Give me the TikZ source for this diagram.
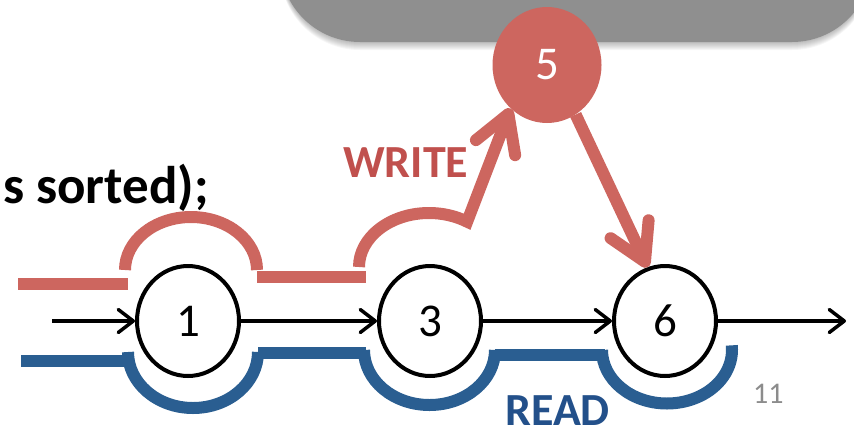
\documentclass[tikz,border=0pt]{standalone}
\usepackage{fontspec}
\setmainfont{Carlito}
\usetikzlibrary{shapes.geometric,arrows.meta}
\definecolor{boxgray}{HTML}{8F8F8F}
\definecolor{wred}{HTML}{CD665F}
\definecolor{wredtext}{HTML}{C0504D}
\definecolor{rblue}{HTML}{2A5E91}
\definecolor{rbluetext}{HTML}{23508A}
\definecolor{pagegray}{HTML}{8C8C8C}
\begin{document}
\begin{tikzpicture}[x=1pt,y=-1pt,
  listnode/.style={ellipse, draw=black, fill=white, line width=4pt,
    minimum width=102pt, minimum height=110pt, inner sep=0pt,
    font=\fontsize{47}{50}\selectfont},
  newnode/.style={ellipse, fill=wred, minimum width=109pt,
    minimum height=116pt, inner sep=0pt, text=white,
    font=\fontsize{47}{50}\selectfont},
  link/.style={line width=3.5pt,
    -{Straight Barb[length=15pt,width=23pt,round]}},
  writepath/.style={draw=wred, line width=12pt},
  readpath/.style={draw=rblue, line width=12pt},
  bigbarb/.style={-{Straight Barb[length=36pt,width=42pt,round]}},
  label/.style={inner sep=0pt, anchor=base west}]
\useasboundingbox (0,0) rectangle (854,437);

% grey panel with a soft shadow underneath
\foreach \k in {1,...,8}
  \fill[black, opacity=0.035, rounded corners=80pt] (280,-200) rectangle (872,42+\k);
\fill[boxgray, rounded corners=80pt] (280,-200) rectangle (872,42);

% list nodes
\node[listnode] (n1) at (188,321) {1};
\node[listnode] (n3) at (430,321) {3};
\node[listnode] (n6) at (665,321) {6};
\node[newnode]  (n5) at (547,65) {5};

% links of the list
\coordinate (head) at (52,321);
\coordinate (tail) at (846,321);
\draw[link] (head) -- (n1);
\draw[link] (n1) -- (n3);
\draw[link] (n3) -- (n6);
\draw[link] (n6) -- (tail);

% write traversal
\draw[writepath] (18,284) -- (128,284);
\draw[writepath] (125,270) arc[start angle=180,end angle=360,x radius=66,y radius=53];
\draw[writepath] (257,277) -- (366,277);
\draw[writepath, bigbarb] (359,267) arc[start angle=180,end angle=303,x radius=70,y radius=54] -- (n5.230);
\draw[writepath, bigbarb] (n5.300) -- (n6.108);

% read traversal
\draw[readpath] (21,361) -- (131,361);
\draw[readpath] (128,352) arc[start angle=180,end angle=0,x radius=65,y radius=56];
\draw[readpath] (258,353) -- (366,353);
\draw[readpath] (364,350) arc[start angle=180,end angle=0,x radius=65.5,y radius=55];
\draw[readpath] (495,355) -- (605,355);
\draw[readpath] (602,350) arc[start angle=180,end angle=-5,x radius=65,y radius=53.5];

% labels
\node[label, font=\fontsize{53}{60}\selectfont\bfseries] (code) at (3,203) {s sorted);};
\node[label, text=wredtext, font=\fontsize{46}{50}\selectfont\bfseries] (wlabel) at (343,177) {WRITE};
\node[label, text=rbluetext, font=\fontsize{46}{50}\selectfont\bfseries] (rlabel) at (505,425) {READ};
\node[label, text=pagegray, font=\fontsize{30}{34}\selectfont] (page) at (753,403) {11};
\end{tikzpicture}
\end{document}
